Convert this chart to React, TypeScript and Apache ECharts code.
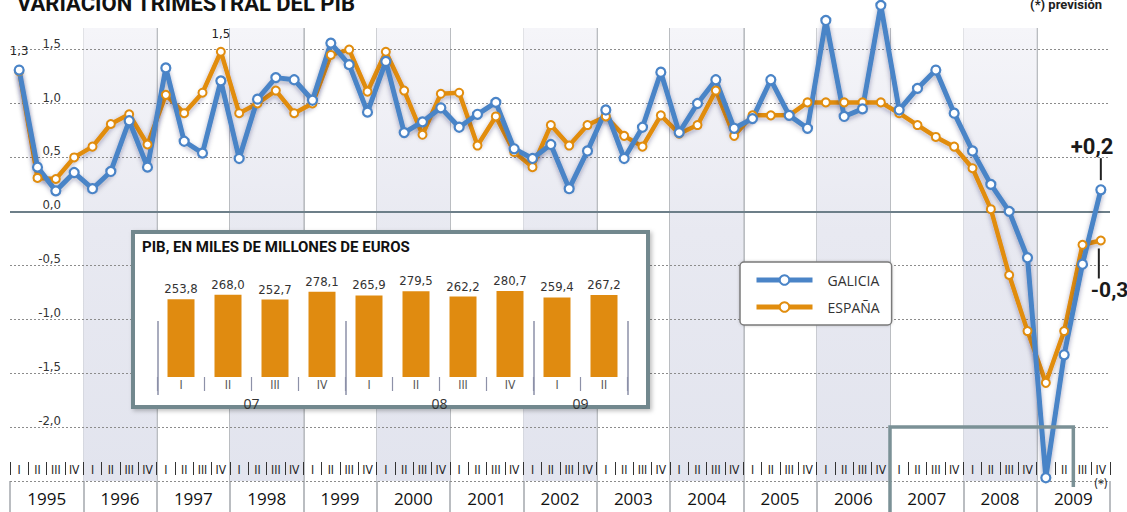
import { useEffect, useRef } from "react";
import * as echarts from "echarts";

// ---------- DATA ----------
const years = ["1995", "1996", "1997", "1998", "1999", "2000", "2001", "2002", "2003", "2004", "2005", "2006", "2007", "2008", "2009"];
const quarterNames = ["I", "II", "III", "IV"];
const periods = years.flatMap((y) => quarterNames.map((q) => `${y}-${q}`));

const galicia = [
  1.31, 0.41, 0.19, 0.36,
  0.21, 0.37, 0.84, 0.41,
  1.33, 0.65, 0.54, 1.21,
  0.49, 1.04, 1.24, 1.22,
  1.03, 1.56, 1.36, 0.92,
  1.39, 0.73, 0.83, 0.96,
  0.78, 0.9, 1.01, 0.58,
  0.49, 0.62, 0.21, 0.56,
  0.94, 0.49, 0.78, 1.29,
  0.73, 1.0, 1.22, 0.77,
  0.86, 1.22, 0.89, 0.77,
  1.77, 0.88, 0.95, 1.91,
  0.94, 1.14, 1.31, 0.91,
  0.56, 0.25, 0.0, -0.43,
  -2.47, -1.33, -0.49, 0.2,
];
const espana = [
  1.3, 0.31, 0.3, 0.5,
  0.6, 0.81, 0.9, 0.62,
  1.08, 0.91, 1.1, 1.48,
  0.91, 1.0, 1.12, 0.91,
  1.0, 1.45, 1.5, 1.11,
  1.48, 1.12, 0.71, 1.09,
  1.1, 0.61, 0.88, 0.55,
  0.41, 0.8, 0.61, 0.8,
  0.88, 0.7, 0.6, 0.89,
  0.72, 0.8, 1.12, 0.7,
  0.89, 0.89, 0.89, 1.01,
  1.01, 1.01, 1.01, 1.01,
  0.91, 0.8, 0.69, 0.6,
  0.4, 0.02, -0.59, -1.11,
  -1.59, -1.11, -0.31, -0.27,
];

const galiciaCallouts = [
  { index: 0, text: "1,3", big: false },
  { index: 59, text: "+0,2", big: true },
];
const espanaCallouts = [
  { index: 11, text: "1,5", big: false },
  { index: 59, text: "-0,3", big: true },
];

const yTickLabels = [1.5, 1.0, 0.5, 0, -0.5, -1.0, -1.5, -2.0];
const gridLineValues = [1.5, 1.0, 0.5, 0, -0.5, -1.0, -1.5, -2.0, -2.5];
const shadedYears = ["1996", "1998", "2000", "2002", "2004", "2006", "2008"];
const highlightFrom = "2007-I";
const highlightTo = "2009-II";
const highlightLevel = -2.0;
const forecastPeriod = "2009-IV";

const insetTitle = "PIB, EN MILES DE MILLONES DE EUROS";
const insetPeriods = ["07-I", "07-II", "07-III", "07-IV", "08-I", "08-II", "08-III", "08-IV", "09-I", "09-II"];
const insetValues = [253.8, 268.0, 252.7, 278.1, 265.9, 279.5, 262.2, 280.7, 259.4, 267.2];
const insetYears = ["07", "08", "09"];
const insetYearCenters = [2, 6, 9];
const insetYearBounds = [0, 4, 8, 10];

// ---------- STYLE ----------
const BLUE = "#4a84c7";
const ORANGE = "#e18d0e";
const COND = '"Liberation Sans Narrow", "DejaVu Sans Condensed", Roboto, sans-serif';
const SANS = '"Open Sans", Roboto, sans-serif';
const BOLD = 'Roboto, "Open Sans", sans-serif';

const smallLabel = (text: string) => ({
  show: true,
  position: "top",
  distance: 7,
  formatter: text,
  fontSize: 13,
  color: "#222",
  fontFamily: COND,
});

function bigLabel(text: string, above: boolean) {
  const rich = {
    v: { fontSize: above ? 22 : 21, fontWeight: "bold", color: "#1a1a1a", fontFamily: BOLD, lineHeight: 24 },
    bar: { width: 2, height: above ? 22 : 30, backgroundColor: "#222" },
    sp: { width: 29 },
    sp2: { width: 7 },
  };
  return above
    ? { show: true, position: "top", distance: 4, align: "left", offset: [-30, 0], formatter: `{v|${text}}\n{sp| }{bar| }`, rich }
    : { show: true, position: "bottom", distance: 3, align: "left", offset: [-10, 0], formatter: `{sp2| }{bar| }\n{v|${text}}`, rich };
}

function buildData(values: number[], callouts: { index: number; text: string; big: boolean }[], above: boolean) {
  return values.map((v, i) => {
    const c = callouts.find((k) => k.index === i);
    if (!c) return v;
    return { value: v, label: c.big ? bigLabel(c.text, above) : smallLabel(c.text) };
  });
}

export default function App() {
  const ref = useRef<HTMLDivElement>(null);

  useEffect(() => {
    if (!ref.current) return;
    const chart = echarts.init(ref.current, undefined, { renderer: "svg" });

    const shadeFill = new echarts.graphic.LinearGradient(0, 0, 0, 1, [
      { offset: 0, color: "#f5f5f9" },
      { offset: 0.45, color: "#e8e9f1" },
      { offset: 1, color: "#e2e4ee" },
    ]);

    const option: any = {
      animation: false,
      backgroundColor: "#ffffff",
      title: [
        {
          text: "VARIACIÓN TRIMESTRAL DEL PIB",
          left: 12,
          top: -13,
          textStyle: { fontSize: 22, fontWeight: "bold", color: "#111", fontFamily: BOLD },
        },
        {
          text: "(*) previsión",
          right: 20,
          top: -7,
          textStyle: { fontSize: 13, fontWeight: "bold", color: "#222", fontFamily: BOLD },
        },
      ],
      legend: {
        orient: "vertical",
        left: 740,
        top: 262,
        data: ["GALICIA", "ESPAÑA"],
        itemWidth: 56,
        itemHeight: 12,
        itemGap: 13,
        padding: [11, 12, 11, 14],
        backgroundColor: "#ffffff",
        borderColor: "#7a7a7a",
        borderWidth: 1.5,
        borderRadius: 4,
        shadowBlur: 3,
        shadowColor: "rgba(0,0,0,0.2)",
        lineStyle: { width: 5 },
        textStyle: { fontSize: 14, color: "#333", fontFamily: SANS, padding: [0, 0, 0, 10] },
        z: 6,
      },
      grid: [
        { left: 10, right: 17, top: 28, bottom: 31 },
        { left: 157.5, top: 285, width: 470, height: 92 },
      ],
      xAxis: [
        {
          type: "category",
          gridIndex: 0,
          data: periods,
          position: "bottom",
          offset: -19,
          boundaryGap: true,
          z: 2,
          axisLine: { show: false, onZero: false },
          axisTick: { show: true, interval: 0, inside: false, length: 13, lineStyle: { color: "#333", width: 1 } },
          axisLabel: {
            inside: false,
            interval: 0,
            margin: 1,
            fontSize: 12,
            lineHeight: 14,
            color: "#222",
            fontFamily: COND,
            formatter: (v: string) => {
              const q = v.split("-")[1];
              return v === forecastPeriod ? `${q}\n(*)` : q;
            },
          },
          splitLine: { show: false },
        },
        {
          type: "category",
          gridIndex: 0,
          data: years,
          position: "bottom",
          boundaryGap: true,
          axisLine: { show: false, onZero: false },
          axisTick: { show: true, interval: 0, length: 31, lineStyle: { color: "#a3a7ad", width: 1.5 } },
          axisLabel: {
            interval: 0,
            margin: 9,
            fontSize: 17,
            color: "#111",
            fontFamily: SANS,
          },
          splitLine: { show: true, showMinLine: false, showMaxLine: false, lineStyle: { color: "#a3a7ad", width: 1.5 } },
        },
        {
          type: "category",
          gridIndex: 1,
          data: insetPeriods,
          z: 6,
          axisLine: { show: false, onZero: false },
          axisTick: { show: true, interval: 0, length: 14, lineStyle: { color: "#8d91a8", width: 1.2 } },
          axisLabel: {
            interval: 0,
            margin: 2,
            fontSize: 12,
            color: "#555",
            fontFamily: COND,
            formatter: (v: string) => v.split("-")[1],
          },
          splitLine: { show: false },
        },
        {
          type: "value",
          gridIndex: 1,
          min: 0,
          max: 10,
          position: "bottom",
          offset: 18,
          z: 6,
          axisLine: { show: false, onZero: false },
          splitLine: { show: false },
          axisTick: { show: true, customValues: insetYearBounds, inside: true, length: 74, lineStyle: { color: "#8d91a8", width: 1.5 } },
          axisLabel: {
            customValues: insetYearCenters,
            margin: 1,
            fontSize: 14,
            color: "#333",
            fontFamily: SANS,
            formatter: (v: number) => insetYears[insetYearCenters.indexOf(Math.round(v))] ?? "",
          },
        },
      ],
      yAxis: [
        {
          type: "value",
          gridIndex: 0,
          min: -2.5,
          max: 1.7,
          interval: 0.5,
          axisLine: { show: false },
          axisTick: { show: false },
          splitLine: { show: false },
          axisLabel: {
            inside: true,
            margin: 51,
            align: "right",
            verticalAlign: "bottom",
            fontSize: 13,
            color: "#333",
            fontFamily: COND,
            formatter: (v: number) => {
              const r = Math.round(v * 10) / 10;
              return yTickLabels.includes(r) ? r.toFixed(1).replace(".", ",") : "";
            },
          },
        },
        { type: "value", gridIndex: 1, min: 0, max: 300, show: false },
      ],
      graphic: [
        {
          type: "rect",
          z: 3,
          silent: true,
          shape: { x: 133, y: 232, width: 515, height: 175 },
          style: {
            fill: "#ffffff",
            stroke: "#72888e",
            lineWidth: 4,
            shadowBlur: 4,
            shadowOffsetX: 2,
            shadowOffsetY: 2,
            shadowColor: "rgba(0,0,0,0.25)",
          },
        },
        {
          type: "text",
          z: 4,
          silent: true,
          x: 142,
          y: 239,
          style: { text: insetTitle, fontSize: 15, fontWeight: "bold", fill: "#111", fontFamily: BOLD },
        },
      ],
      series: [
        {
          type: "custom",
          name: "shade",
          xAxisIndex: 1,
          yAxisIndex: 0,
          z: 0,
          silent: true,
          data: shadedYears.map((y) => [y, 0]),
          encode: { x: 0, y: 1 },
          renderItem: (params: any, api: any) => {
            const c = api.coord([api.value(0), 0]);
            const w = api.size([1, 0])[0];
            const cs = params.coordSys;
            return {
              type: "rect",
              shape: { x: c[0] - w / 2, y: cs.y, width: w, height: cs.height },
              style: { fill: shadeFill },
            };
          },
          markLine: {
            silent: true,
            z: 1,
            symbol: ["none", "none"],
            label: { show: false },
            data: gridLineValues.map((v) => ({
              yAxis: v,
              lineStyle:
                v === 0
                  ? { type: "solid", color: "#6d7f89", width: 2 }
                  : { type: [2, 2], color: "#8c8c8c", width: 1 },
            })),
          },
        },
        {
          type: "custom",
          name: "highlight",
          xAxisIndex: 0,
          yAxisIndex: 0,
          z: 3,
          silent: true,
          data: [[highlightFrom, highlightTo, highlightLevel]],
          encode: { x: [0, 1], y: 2 },
          renderItem: (params: any, api: any) => {
            const p0 = api.coord([api.value(0), api.value(2)]);
            const p1 = api.coord([api.value(1), api.value(2)]);
            const w = api.size([1, 0])[0];
            const cs = params.coordSys;
            const bottomL = cs.y + cs.height + 40;
            const bottomR = cs.y + cs.height + 6;
            return {
              type: "polyline",
              shape: {
                points: [
                  [p0[0] - w / 2, bottomL],
                  [p0[0] - w / 2, p0[1]],
                  [p1[0] + w / 2, p0[1]],
                  [p1[0] + w / 2, bottomR],
                ],
              },
              style: { stroke: "#7b9196", lineWidth: 3.5, fill: "none" },
            };
          },
        },
        {
          name: "ESPAÑA",
          type: "line",
          xAxisIndex: 0,
          yAxisIndex: 0,
          z: 2,
          clip: false,
          data: buildData(espana, espanaCallouts, false),
          symbol: "circle",
          symbolSize: 8,
          showAllSymbol: true,
          color: ORANGE,
          lineStyle: { color: ORANGE, width: 4.5, shadowColor: "rgba(30,30,70,0.35)", shadowBlur: 5, shadowOffsetY: 2 },
          itemStyle: { color: "#ffffff", borderColor: ORANGE, borderWidth: 2 },
        },
        {
          name: "GALICIA",
          type: "line",
          xAxisIndex: 0,
          yAxisIndex: 0,
          z: 2,
          clip: false,
          data: buildData(galicia, galiciaCallouts, true),
          symbol: "circle",
          symbolSize: 9,
          showAllSymbol: true,
          color: BLUE,
          lineStyle: { color: BLUE, width: 5, shadowColor: "rgba(30,30,70,0.35)", shadowBlur: 5, shadowOffsetY: 2 },
          itemStyle: { color: "#ffffff", borderColor: BLUE, borderWidth: 2.2 },
        },
        {
          name: "PIB",
          type: "bar",
          xAxisIndex: 2,
          yAxisIndex: 1,
          z: 6,
          data: insetValues,
          barWidth: 27,
          itemStyle: { color: "#e08b10" },
          label: {
            show: true,
            position: "top",
            distance: 4,
            fontSize: 13,
            color: "#333",
            fontFamily: COND,
            formatter: (p: any) => Number(p.value).toFixed(1).replace(".", ","),
          },
        },
      ],
    };

    chart.setOption(option);
    return () => chart.dispose();
  }, []);

  return <div ref={ref} style={{ position: "absolute", left: 0, top: 0, width: 1127, height: 512 }} />;
}
